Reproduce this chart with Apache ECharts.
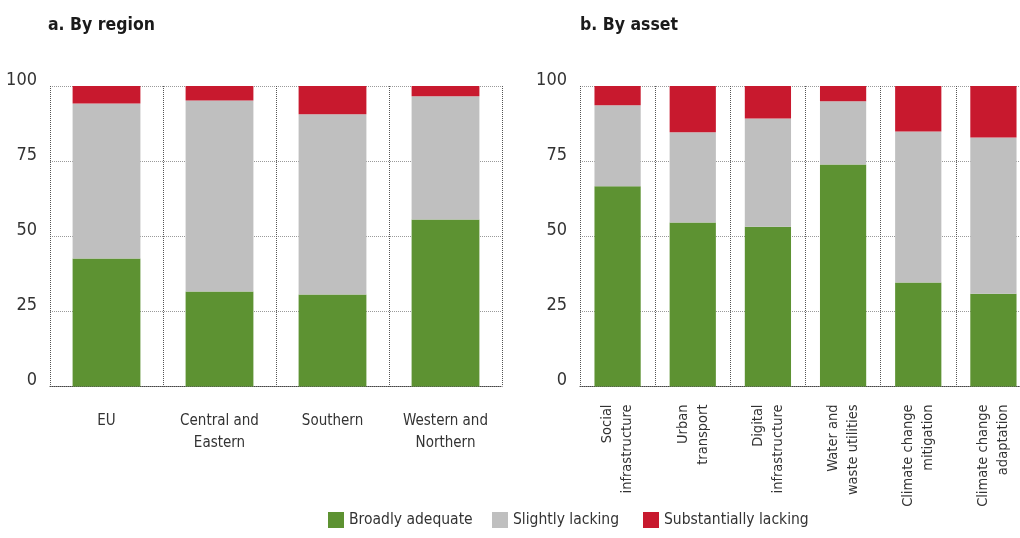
<!DOCTYPE html>
<html>
<head>
<meta charset="utf-8">
<script src="https://cdn.jsdelivr.net/npm/echarts@6/dist/echarts.min.js"></script>
<style>
  html, body { margin: 0; padding: 0; background: #fff; }
  #chart { width: 1020px; height: 538px; }
</style>
</head>
<body>
<div id="chart"></div>
<script>
// Panel a: by region
const regionCategories = ['EU', 'Central and\nEastern', 'Southern', 'Western and\nNorthern'];
const regionAdequate = [42.6, 31.6, 30.6, 55.6];
const regionSlightly = [51.6, 63.6, 60.0, 41.0];
const regionSubstantially = [5.8, 4.8, 9.4, 3.4];

// Panel b: by asset
const assetCategories = ['Social\ninfrastructure', 'Urban\ntransport', 'Digital\ninfrastructure',
  'Water and\nwaste utilities', 'Climate change\nmitigation', 'Climate change\nadaptation'];
const assetAdequate = [66.6, 54.6, 53.2, 73.9, 34.6, 30.9];
const assetSlightly = [27.0, 30.0, 36.0, 21.0, 50.3, 52.0];
const assetSubstantially = [6.4, 15.4, 10.8, 5.1, 15.1, 17.1];

const seriesNames = ['Broadly adequate', 'Slightly lacking', 'Substantially lacking'];
const yTicks = [0, 25, 50, 75, 100];

const FONT = '"Liberation Sans Narrow", "DejaVu Sans Condensed", sans-serif';
const colors = ['#5d9232', '#bfbfbf', '#c8192e'];

const chart = echarts.init(document.getElementById('chart'));

function yAxisFor(gridIndex) {
  return {
    type: 'value', gridIndex, min: yTicks[0], max: yTicks[yTicks.length - 1], interval: 25,
    axisLine: { show: false }, axisTick: { show: false },
    axisLabel: {
      fontFamily: FONT, fontSize: 18, color: '#333', margin: 13,
      verticalAlign: 'bottom', lineHeight: 12
    },
    splitLine: { show: true, lineStyle: { color: '#9a9a9a', type: [1, 1], width: 1 } }
  };
}

function xAxisFor(gridIndex, data, rotated) {
  return {
    type: 'category', gridIndex, data,
    axisLine: { show: true, lineStyle: { color: '#444', type: [1, 1], width: 1 } },
    axisTick: { show: false },
    axisLabel: rotated
      ? { rotate: 90, interval: 0, fontFamily: FONT, fontSize: 14.5, color: '#333', margin: 18, lineHeight: 20 }
      : { interval: 0, fontFamily: FONT, fontSize: 15, color: '#333', margin: 24, lineHeight: 22 },
    splitLine: { show: true, interval: 0, lineStyle: { color: '#555', type: [1, 1], width: 1 } }
  };
}

function bars(xi, values, name, color, width) {
  return {
    type: 'bar', name, stack: 's' + xi, xAxisIndex: xi, yAxisIndex: xi,
    data: values, barWidth: width, itemStyle: { color }, silent: true
  };
}

// One legend block per series so each entry keeps its own position
const legendLefts = [323, 487, 638];
const legends = seriesNames.map((name, i) => ({
  data: [name], left: legendLefts[i], top: 507, itemWidth: 16, itemHeight: 16,
  icon: 'rect', selectedMode: false,
  textStyle: { fontFamily: FONT, fontSize: 15.5, color: '#333', padding: [0, 0, 0, 0] }
}));

chart.setOption({
  animation: false,
  title: [
    { text: 'a. By region', left: 43, top: 11,
      textStyle: { fontFamily: FONT, fontSize: 17.5, fontWeight: 'bold', color: '#1a1a1a' } },
    { text: 'b. By asset', left: 575, top: 11,
      textStyle: { fontFamily: FONT, fontSize: 17.5, fontWeight: 'bold', color: '#1a1a1a' } }
  ],
  legend: legends,
  grid: [
    { left: 50, width: 452, top: 86, height: 300.5, outerBoundsMode: 'none', containLabel: false },
    { left: 580, width: 451, top: 86, height: 300.5, outerBoundsMode: 'none', containLabel: false }
  ],
  xAxis: [xAxisFor(0, regionCategories, false), xAxisFor(1, assetCategories, true)],
  yAxis: [yAxisFor(0), yAxisFor(1)],
  series: [
    bars(0, regionAdequate, seriesNames[0], colors[0], '60%'),
    bars(0, regionSlightly, seriesNames[1], colors[1], '60%'),
    bars(0, regionSubstantially, seriesNames[2], colors[2], '60%'),
    bars(1, assetAdequate, seriesNames[0], colors[0], '61.5%'),
    bars(1, assetSlightly, seriesNames[1], colors[1], '61.5%'),
    bars(1, assetSubstantially, seriesNames[2], colors[2], '61.5%')
  ]
});
</script>
</body>
</html>
